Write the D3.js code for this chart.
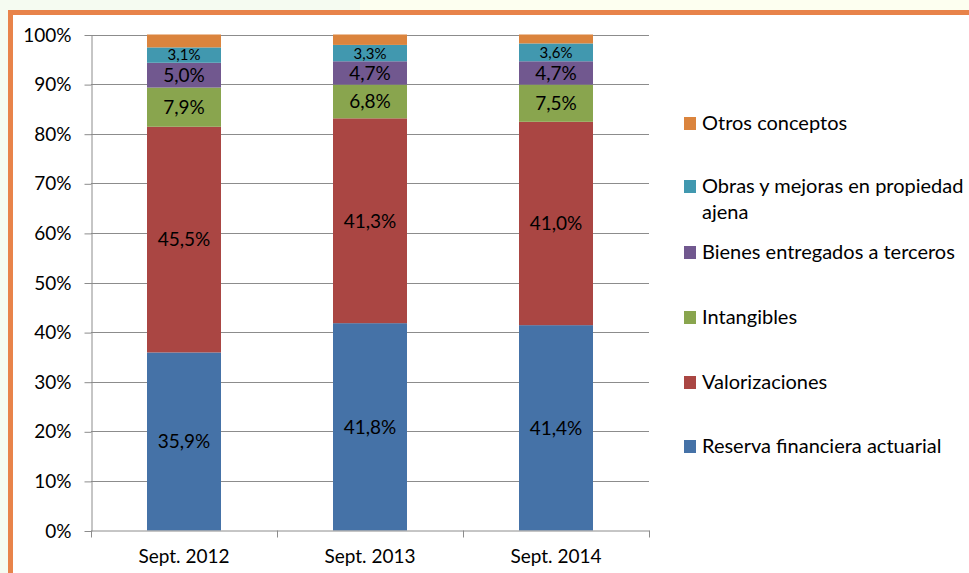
<!DOCTYPE html>
<html><head><meta charset="utf-8">
<script src="https://cdn.jsdelivr.net/npm/d3@7"></script>
<style>
html,body{margin:0;padding:0;background:#f7fcf0;}
svg{display:block;font-family:Lato,"Open Sans",sans-serif;}
</style></head>
<body>
<svg id="c" width="969" height="573"></svg>
<script>
const categories = ["Sept. 2012","Sept. 2013","Sept. 2014"];
const seriesNames = ["Reserva financiera actuarial","Valorizaciones","Intangibles","Bienes entregados a terceros","Obras y mejoras en propiedad ajena","Otros conceptos"];
const reserva = [35.9, 41.8, 41.4];
const valorizaciones = [45.5, 41.3, 41.0];
const intangibles = [7.9, 6.8, 7.5];
const bienes = [5.0, 4.7, 4.7];
const obras = [3.1, 3.3, 3.6];
const otros = [2.6, 2.1, 1.8];
const colors = ["#4572A7","#AA4643","#89A54E","#71588F","#4198AF","#DB843D"];
const yTicks = [0,10,20,30,40,50,60,70,80,90,100];

const seriesVals = [reserva, valorizaciones, intangibles, bienes, obras, otros];
const rows = categories.map((c,i)=>{const o={cat:c}; seriesNames.forEach((s,j)=>o[s]=seriesVals[j][i]); return o;});
const stacked = d3.stack().keys(seriesNames)(rows);

const FONT = "Lato";
const svg = d3.select("#c");
// page background pieces
svg.append("rect").attr("x",0).attr("y",0).attr("width",969).attr("height",573).attr("fill","#f5fbf1");
svg.append("rect").attr("x",360).attr("y",0).attr("width",609).attr("height",12).attr("fill","#fdfff0");
svg.append("rect").attr("x",10.5).attr("y",12.5).attr("width",980).attr("height",600).attr("fill","#fff").attr("stroke","#E8834A").attr("stroke-width",5);

const x0 = 91, x1 = 649, yTop = 34.5, yBot = 530.5;
const x = d3.scaleBand().domain(categories).range([x0,x1]).paddingInner(0).paddingOuter(0);
const y = d3.scaleLinear().domain([0,100]).range([yBot,yTop]);

// gridlines
svg.append("g").selectAll("line").data(yTicks.filter(t=>t>0)).join("line")
  .attr("x1",x0).attr("x2",x1).attr("y1",d=>Math.round(y(d))+0.5).attr("y2",d=>Math.round(y(d))+0.5)
  .attr("stroke","#8c8c8c").attr("stroke-width",1);

// y axis
const yAxis = d3.axisLeft(y).tickValues(yTicks).tickFormat(d=>d+"%").tickSize(7).tickSizeOuter(0);
const gy = svg.append("g").attr("transform",`translate(${x0+0.5},0.5)`).call(yAxis);
gy.attr("font-family",FONT);
gy.selectAll("path,line").attr("stroke","#8c8c8c");
gy.selectAll("text").attr("font-size",19).attr("fill","#000").attr("x",-20);

// bars
const bw = 74;
svg.append("g").selectAll("g").data(stacked).join("g").attr("fill",(d,i)=>colors[i])
  .selectAll("rect").data(d=>d).join("rect")
  .attr("x",d=>x(d.data.cat)+x.bandwidth()/2-bw/2)
  .attr("y",d=>y(d[1])).attr("height",d=>y(d[0])-y(d[1])).attr("width",bw);

// labels
stacked.forEach((s,i)=>{
  if(i===5) return;
  svg.append("g").selectAll("text").data(s).join("text")
    .attr("x",d=>x(d.data.cat)+x.bandwidth()/2)
    .attr("y",d=>(y(d[0])+y(d[1]))/2)
    .attr("dy","0.36em").attr("text-anchor","middle")
    .attr("font-family",FONT)
    .attr("font-size",i===4?15:19).attr("fill","#000")
    .text(d=>(d[1]-d[0]).toFixed(1).replace(".",",")+"%");
});

// x axis
const xAxis = d3.axisBottom(x).tickSize(0).tickSizeOuter(0);
const gx = svg.append("g").attr("transform",`translate(0,${yBot})`).call(xAxis);
gx.attr("font-family",FONT);
gx.select("path").attr("stroke","#8c8c8c");
gx.selectAll("text").attr("font-size",19).attr("fill","#000").attr("y",32).attr("dy",0);
// category boundary ticks
svg.append("g").selectAll("line").data(categories.concat(["end"])).join("line")
  .attr("x1",(d,i)=>Math.round(x0+i*x.bandwidth())+0.5).attr("x2",(d,i)=>Math.round(x0+i*x.bandwidth())+0.5)
  .attr("y1",yBot).attr("y2",yBot+7).attr("stroke","#8c8c8c");

// legend
const legY = [123,186,252,317,382,446];
const order = [5,4,3,2,1,0];
const lg = svg.append("g").attr("font-family",FONT);
order.forEach((si,k)=>{
  const g = lg.append("g").attr("transform",`translate(684,${legY[k]})`);
  g.append("rect").attr("x",0).attr("y",-6).attr("width",12).attr("height",13).attr("fill",colors[si]);
  const name = seriesNames[si];
  if(si===4){
    const t = g.append("text").attr("x",18).attr("y",0).attr("dy","0.36em").attr("font-size",20);
    t.append("tspan").attr("x",18).text("Obras y mejoras en propiedad");
    t.append("tspan").attr("x",18).attr("dy",26).text("ajena");
  } else {
    g.append("text").attr("x",18).attr("y",0).attr("dy","0.36em").attr("font-size",20).text(name);
  }
});
</script>
</body></html>
